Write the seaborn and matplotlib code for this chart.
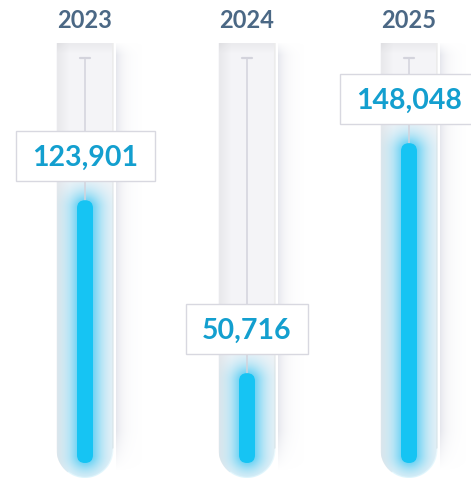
import numpy as np
import pandas as pd
import matplotlib
matplotlib.use("Agg")
import matplotlib.pyplot as plt
import seaborn as sns
from matplotlib.patches import FancyBboxPatch, PathPatch, Rectangle
from matplotlib.path import Path

# ---------------- data ----------------
years = ["2023", "2024", "2025"]
values = [123901, 50716, 148048]
value_labels = ["123,901", "50,716", "148,048"]
gauge_max = 184000

# ---------------- styling constants (pixels) ----------------
W, H = 471, 484
X0_PX, DX_PX = 85, 162          # centre of first category, spacing
BASE_PY, PX_PER_UNIT = 493, 0.002363
TUBE_TOP, TUBE_BOT, TUBE_W = 43, 478, 57
BAR_W, BAR_BOT = 16, 463
BAR_COLOR = "#16c4f3"
VAL_COLOR = "#139fcf"
YEAR_COLOR = "#4b6885"

def v2py(v):
    return BASE_PY - PX_PER_UNIT * v

def py2v(py):
    return (BASE_PY - py) / PX_PER_UNIT

def px2x(px):
    return (px - X0_PX) / DX_PX

sns.set_theme(style="white")
plt.rcParams["font.family"] = ["Lato", "DejaVu Sans"]

fig = plt.figure(figsize=(W / 100, H / 100), dpi=100)
fig.patch.set_facecolor("white")
ax = fig.add_axes([0, 0, 1, 1])
ax.set_facecolor("white")

df = pd.DataFrame({"year": years, "value": values})
sns.barplot(data=df, x="year", y="value", ax=ax, color=BAR_COLOR,
            width=BAR_W / DX_PX, errorbar=None, saturation=1, zorder=6)
ax.set_xlim(px2x(0), px2x(W))
ax.set_ylim(py2v(H), py2v(0))
ax.axis("off")

xu_per_px = 1 / DX_PX
yu_per_px = 1 / PX_PER_UNIT
aspect = yu_per_px / xu_per_px

def tube_path(cx_px):
    r = TUBE_W / 2
    th = np.linspace(np.pi, 2 * np.pi, 60)
    xs = [cx_px - r] + list(cx_px + r * np.cos(th)) + [cx_px + r]
    ys = [TUBE_TOP] + list((TUBE_BOT - r) - r * np.sin(th)) + [TUBE_TOP]
    xs.append(xs[0]); ys.append(ys[0])
    verts = np.column_stack([[px2x(x) for x in xs], [py2v(y) for y in ys]])
    return Path(verts, closed=True), xs, ys

bars = list(ax.patches)
for i, p in enumerate(bars):
    cx_px = X0_PX + DX_PX * i
    x, w, h = p.get_x(), p.get_width(), p.get_height()
    top_py = v2py(h)

    # ---- tube ----
    path, xs, ys = tube_path(cx_px)
    tube = PathPatch(path, facecolor="#f3f3f6", edgecolor="none", zorder=1)
    ax.add_patch(tube)
    gw, gh = TUBE_W, TUBE_BOT - TUBE_TOP
    gx = np.arange(gw)[None, :].repeat(gh, 0).astype(float)
    gy = np.arange(gh)[:, None].repeat(gw, 1).astype(float)
    base = np.array([244, 244, 247], float)
    dark = np.clip(1 - gx / 12, 0, 1) * 11 + np.clip(1 - gy / 10, 0, 1) * 9
    img = np.zeros((gh, gw, 3))
    for c in range(3):
        img[..., c] = base[c] - dark
    img[:, -2:, :] = 236
    im = ax.imshow(img / 255, extent=(px2x(cx_px - gw / 2), px2x(cx_px + gw / 2),
                                      py2v(TUBE_BOT), py2v(TUBE_TOP)),
                   aspect="auto", zorder=1.5, interpolation="bilinear")
    im.set_clip_path(tube)
    # soft shadow to the right
    sw = 26
    sh = np.zeros((gh, sw, 4))
    sh[..., 0] = 0.84; sh[..., 1] = 0.85; sh[..., 2] = 0.89
    xa = np.exp(-np.arange(sw) / 7.0) * 0.6
    ya = np.clip((np.arange(gh) + 2) / 14, 0, 1) * np.clip((gh - np.arange(gh)) / 40, 0, 1)
    sh[..., 3] = ya[:, None] * xa[None, :]
    ax.imshow(sh, extent=(px2x(cx_px + gw / 2 + 2.5), px2x(cx_px + gw / 2 + 2.5 + sw),
                          py2v(TUBE_BOT - 8), py2v(TUBE_TOP)),
              aspect="auto", zorder=0.8, interpolation="bilinear")
    # white rim at bottom
    rim_x = [px2x(v) for v in xs[1:-1]]
    rim_y = [py2v(v) for v in ys[1:-1]]
    ax.plot(rim_x[18:-1], rim_y[18:-1], color="white", lw=1.8, zorder=2,
            solid_capstyle="round")

    # ---- glow ----
    gxx = np.arange(gw)[None, :] + 0.5 - gw / 2
    gyy = np.arange(gh)[:, None] + 0.5 + TUBE_TOP
    r = BAR_W / 2
    seg_top, seg_bot = top_py + r, BAR_BOT - r
    dy = np.clip(gyy, seg_top, seg_bot) - gyy
    dist = np.sqrt(gxx ** 2 + dy ** 2) - r
    dist = np.clip(dist, 0, None)
    glow = np.zeros((gh, gw, 4))
    glow[..., 0] = 0.40; glow[..., 1] = 0.82; glow[..., 2] = 0.96
    glow[..., 3] = 0.9 * np.exp(-(dist / 11.0) ** 1.2)
    gim = ax.imshow(glow, extent=(px2x(cx_px - gw / 2), px2x(cx_px + gw / 2),
                                  py2v(TUBE_BOT), py2v(TUBE_TOP)),
                    aspect="auto", zorder=3, interpolation="bilinear")
    gim.set_clip_path(tube)

    # ---- guide line ----
    ax.plot([i, i], [gauge_max, h], color="#d3d3dc", lw=1.1, zorder=4)
    ax.plot([i - 5 * xu_per_px, i + 5 * xu_per_px], [gauge_max, gauge_max],
            color="#d3d3dc", lw=1.6, zorder=4)

    # ---- rounded bar ----
    p.remove()
    y0 = py2v(BAR_BOT)
    fb = FancyBboxPatch((x, y0), w, h - y0,
                        boxstyle=f"round,pad=0,rounding_size={w / 2}",
                        mutation_aspect=aspect, facecolor=BAR_COLOR,
                        edgecolor="none", zorder=6)
    ax.add_patch(fb)

    # ---- value label ----
    lab_cy = top_py - 44
    t = ax.text(i, py2v(lab_cy + 10), value_labels[i], ha="center", va="baseline",
                fontsize=20.5, fontweight="bold", color=VAL_COLOR, zorder=9)
    fig.canvas.draw()
    bb = t.get_window_extent(fig.canvas.get_renderer())
    bw = bb.width + 33
    ax.add_patch(Rectangle((i - bw / 2 * xu_per_px, py2v(lab_cy + 25)),
                           bw * xu_per_px, 50 * yu_per_px,
                           facecolor="white", edgecolor="#d8d8e0", lw=1.0, zorder=8))

    # ---- year label ----
    ax.text(i, py2v(28), years[i], ha="center", va="baseline", fontsize=17,
            fontweight="bold", color=YEAR_COLOR, zorder=9)

fig.savefig("out.png", dpi=100, facecolor="white")
